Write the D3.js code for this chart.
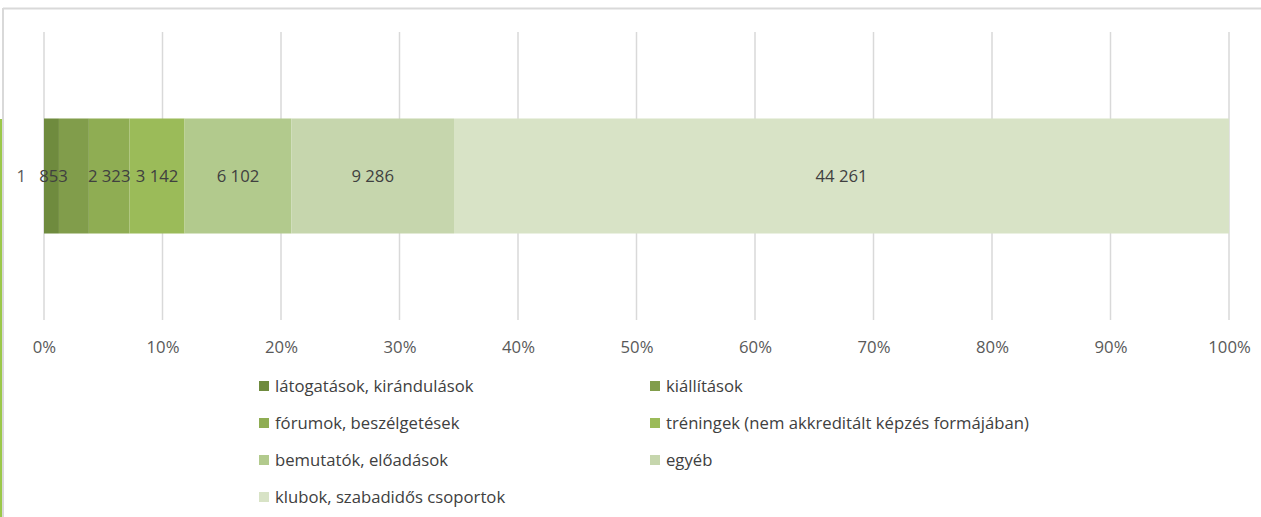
<!DOCTYPE html>
<html><head><meta charset="utf-8">
<script src="https://cdn.jsdelivr.net/npm/d3@7"></script>
<style>
html,body{margin:0;padding:0;background:#fff;}
svg text{font-family:"Open Sans", sans-serif;}
</style></head>
<body>
<svg id="c" width="1261" height="517"></svg>
<script>
const categories = ["1"];
const seriesNames = [
  "látogatások, kirándulások",
  "kiállítások",
  "fórumok, beszélgetések",
  "tréningek (nem akkreditált képzés formájában)",
  "bemutatók, előadások",
  "egyéb",
  "klubok, szabadidős csoportok"
];
const seriesValues = [853, 1710, 2323, 3142, 6102, 9286, 44261];
const dataLabels = ["853", "", "2 323", "3 142", "6 102", "9 286", "44 261"];
const seriesColors = ["#6f8b3e", "#819d4b", "#8fad53", "#9bbb59", "#b2ca8d", "#c6d6ad", "#d8e3c6"];
const tickValues = [0,0.1,0.2,0.3,0.4,0.5,0.6,0.7,0.8,0.9,1];

const svg = d3.select("#c");
const W = 1261, H = 517;
const FS = 16.7;

// chart border
svg.append("line").attr("x1",3).attr("x2",W).attr("y1",8.5).attr("y2",8.5).attr("stroke","#d9d9d9").attr("stroke-width",2);
svg.append("line").attr("x1",3).attr("x2",3).attr("y1",8).attr("y2",H).attr("stroke","#d9d9d9").attr("stroke-width",2);
svg.append("rect").attr("x",0).attr("y",119).attr("width",2).attr("height",H-119).attr("fill","#9bc84a");

const x = d3.scaleLinear().domain([0,1]).range([44,1229]);
const y = d3.scaleBand().domain(categories).range([32,320]).paddingInner(0).paddingOuter(0.752);

// gridlines
svg.append("g").selectAll("line").data(tickValues).join("line")
  .attr("x1",d=>x(d)).attr("x2",d=>x(d)).attr("y1",32).attr("y2",320)
  .attr("stroke","#d9d9d9").attr("stroke-width",1.5);

// stack
const row = {}; seriesNames.forEach((n,i)=>row[n]=seriesValues[i]);
const stack = d3.stack().keys(seriesNames).offset(d3.stackOffsetExpand)([row]);

const g = svg.append("g");
stack.forEach((s,i)=>{
  const d = s[0];
  g.append("rect").attr("x",x(d[0])).attr("width",x(d[1])-x(d[0]))
    .attr("y",y(categories[0])).attr("height",y.bandwidth()).attr("fill",seriesColors[i]);
});
stack.forEach((s,i)=>{
  const d = s[0];
  if(!dataLabels[i]) return;
  g.append("text").attr("x",(x(d[0])+x(d[1]))/2 + (i===0?2:0)).attr("y",y(categories[0])+y.bandwidth()/2)
    .attr("dy","0.35em").attr("text-anchor","middle").attr("font-size",FS).attr("fill","#404040").text(dataLabels[i]);
});

// category axis label
svg.append("text").attr("x",26).attr("y",y(categories[0])+y.bandwidth()/2).attr("dy","0.35em")
  .attr("text-anchor","end").attr("font-size",FS).attr("fill","#595959").text(categories[0]);

// x axis
const xAxis = d3.axisBottom(x).tickValues(tickValues).tickFormat(d3.format(".0%")).tickSize(0).tickPadding(0);
const ax = svg.append("g").attr("transform","translate(0,341)").call(xAxis);
ax.select(".domain").remove();
ax.selectAll("text").attr("font-size",FS).attr("fill","#595959").attr("font-family","'Open Sans', sans-serif");

// legend
const lg = svg.append("g");
seriesNames.forEach((n,i)=>{
  const col = i%2, r = Math.floor(i/2);
  const lx = col===0 ? 259 : 650, ly = 386 + r*37;
  lg.append("rect").attr("x",lx).attr("y",ly-5).attr("width",10).attr("height",10).attr("fill",seriesColors[i]);
  lg.append("text").attr("x",lx+16).attr("y",ly).attr("dy","0.35em").attr("font-size",FS).attr("fill","#404040").text(n);
});
</script>
</body></html>
